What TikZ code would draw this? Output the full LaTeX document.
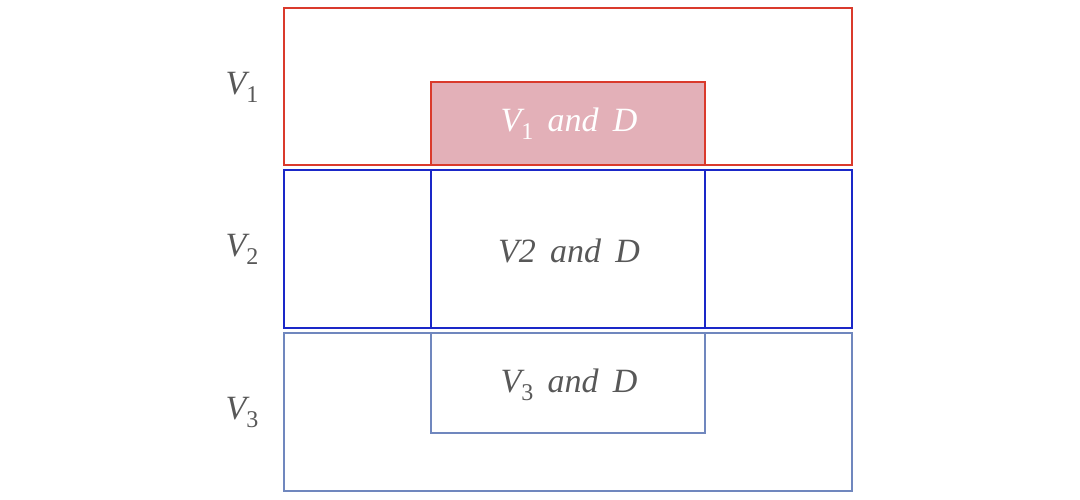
\documentclass[tikz,border=0pt]{standalone}
\usepackage{fontspec}
\setmainfont{Liberation Serif}
\definecolor{vred}{RGB}{218,58,44}
\definecolor{vpink}{RGB}{227,176,184}
\definecolor{vblue}{RGB}{26,40,200}
\definecolor{vsteel}{RGB}{112,135,190}
\definecolor{vtext}{RGB}{88,88,88}
\newcommand{\vsub}[1]{\raisebox{-8pt}{\fontsize{24}{24}\selectfont\upshape #1}}
\tikzset{
  setbox/.style={line width=2.8pt},
  setlabel/.style={text=vtext,font=\fontsize{34}{40}\selectfont\itshape,inner sep=0pt,anchor=base}
}
\begin{document}
\begin{tikzpicture}[x=1pt,y=-1pt]
    \useasboundingbox (0,0) rectangle (1080,500);
    % V1 row
    \draw[setbox,vred] (284,8) rectangle (852,165);
    \filldraw[setbox,draw=vred,fill=vpink] (431,82) rectangle (705,165);
    % V2 row
    \draw[setbox,vblue] (284,170) rectangle (852,328);
    \draw[setbox,vblue] (431,170) rectangle (705,328);
    % V3 row
    \draw[setbox,vsteel] (284,333) rectangle (852,491);
    \draw[setbox,vsteel] (431,333) rectangle (705,433);
    \foreach \n/\y in {1/95, 2/257, 3/419}
        \node[setlabel] (v\n) at (242,\y) {V\vsub{\n}};
    \node[setlabel,text=white] (vd1) at (569,132) {V\vsub{1}\, and\, D};
    \node[setlabel] (vd2) at (569,262) {V2\, and\, D};
    \node[setlabel] (vd3) at (569,392) {V\vsub{3}\, and\, D};
\end{tikzpicture}
\end{document}
